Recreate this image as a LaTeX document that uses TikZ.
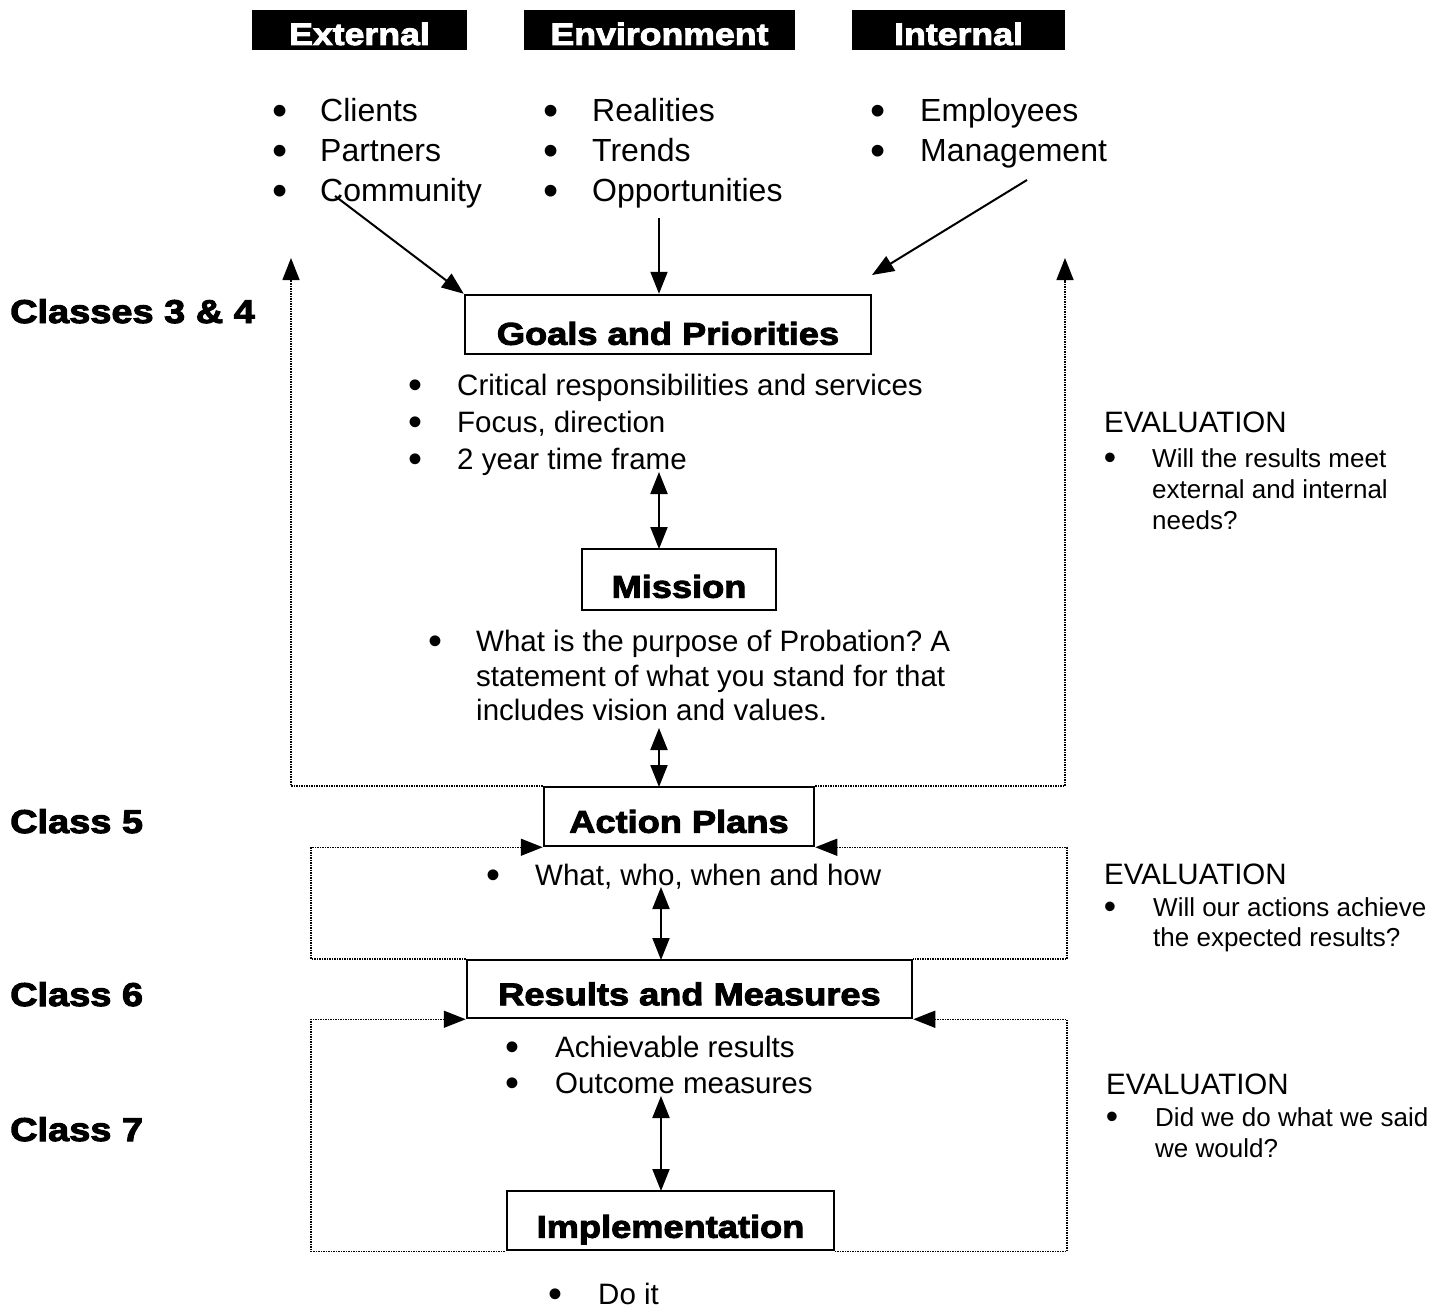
\documentclass[tikz,border=0pt]{standalone}
\usepackage{fontspec}
\setmainfont{Liberation Sans}
\newfontfamily\heavyfont{Liberation Sans}[BoldFeatures={FakeBold=3,FakeStretch=1.15}]
\usetikzlibrary{arrows.meta}
\newcommand{\bul}{\raisebox{-0.11em}{\scalebox{1.35}{•}}}
\frenchspacing

\begin{document}
\begin{tikzpicture}[x=1pt,y=-1pt,
    head/.style={fill=black,text=white,inner sep=0pt,text depth=0pt,text height=30pt,font=\heavyfont\bfseries\fontsize{31}{31}\selectfont},
    stage/.style={draw=black,line width=2.5pt,inner sep=0pt,text depth=0pt,font=\heavyfont\bfseries\fontsize{31.5}{31.5}\selectfont},
    cls/.style={anchor=base west,inner sep=0pt,font=\heavyfont\bfseries\fontsize{33}{33}\selectfont},
    big/.style={anchor=base west,inner sep=0pt,font=\fontsize{32}{32}\selectfont},
    txt/.style={anchor=base west,inner sep=0pt,font=\fontsize{29.5}{29.5}\selectfont},
    small/.style={anchor=base west,inner sep=0pt,font=\fontsize{26}{26}\selectfont},
    dot/.style={anchor=base,inner sep=0pt},
    arr/.style={line width=2pt,-{Triangle[length=22pt,width=17pt]}},
    both/.style={line width=2pt,{Triangle[length=22pt,width=17pt]}-{Triangle[length=22pt,width=17pt]}},
    loop/.style={line width=1.5pt,densely dotted,-{Triangle[length=22pt,width=17pt]}},
    loopin/.style={line width=1.5pt,densely dotted,{Triangle[length=22pt,width=17pt]}-}]
    \useasboundingbox (0,0) rectangle (1437,1316);

    % header boxes
    \node[head,minimum width=215pt,minimum height=40pt] (ext) at (359.5,30) {External};
    \node[head,minimum width=271pt,minimum height=40pt] (env) at (659.5,30) {Environment};
    \node[head,minimum width=213pt,minimum height=40pt] (int) at (958.5,30) {Internal};

    % external / environment / internal lists
    \node[big,dot] (e1b) at (280,122) {\bul};
    \node[big] (e1) at (320,122) {Clients};
    \node[big,dot] (e2b) at (280,162) {\bul};
    \node[big] (e2) at (320,162) {Partners};
    \node[big,dot] (e3b) at (280,202) {\bul};
    \node[big] (e3) at (320,202) {Community};
    \node[big,dot] (v1b) at (551,122) {\bul};
    \node[big] (v1) at (592,122) {Realities};
    \node[big,dot] (v2b) at (551,162) {\bul};
    \node[big] (v2) at (592,162) {Trends};
    \node[big,dot] (v3b) at (551,202) {\bul};
    \node[big] (v3) at (592,202) {Opportunities};
    \node[big,dot] (i1b) at (878,122) {\bul};
    \node[big] (i1) at (920,122) {Employees};
    \node[big,dot] (i2b) at (878,162) {\bul};
    \node[big] (i2) at (920,162) {Management};

    % class labels
    \node[cls] (c34) at (10,323) {Classes 3 \& 4};
    \node[cls] (c5) at (10,833) {Class 5};
    \node[cls] (c6) at (10,1006) {Class 6};
    \node[cls] (c7) at (10,1141) {Class 7};

    % stage boxes
    \node[stage,text height=40.5pt,minimum width=406pt,minimum height=59pt] (goals) at (668,324.5) {Goals and Priorities};
    \node[stage,text height=36.5pt,minimum width=194pt,minimum height=61pt] (mission) at (679,579.5) {Mission};
    \node[stage,text height=32.5pt,minimum width=270pt,minimum height=59pt] (action) at (679,816.5) {Action Plans};
    \node[stage,text height=32.5pt,minimum width=445pt,minimum height=58pt] (results) at (689.5,989) {Results and Measures};
    \node[stage,text height=34.5pt,minimum width=327pt,minimum height=59pt] (impl) at (670.5,1220.5) {Implementation};

    % stage texts
    \node[txt,dot] (g1b) at (415,395) {\bul};
    \node[txt] (g1) at (457,395) {Critical responsibilities and services};
    \node[txt,dot] (g2b) at (415,432) {\bul};
    \node[txt] (g2) at (457,432) {Focus, direction};
    \node[txt,dot] (g3b) at (415,469) {\bul};
    \node[txt] (g3) at (457,469) {2 year time frame};
    \node[txt,dot] (m1b) at (435,651) {\bul};
    \node[txt] (m1) at (476,651) {What is the purpose of Probation? A};
    \node[txt] (m2) at (476,686) {statement of what you stand for that};
    \node[txt] (m3) at (476,720) {includes vision and values.};
    \node[txt,dot] (a1b) at (493,885) {\bul};
    \node[txt] (a1) at (535,885) {What, who, when and how};
    \node[txt,dot] (r1b) at (512,1057) {\bul};
    \node[txt] (r1) at (555,1057) {Achievable results};
    \node[txt,dot] (r2b) at (512,1093) {\bul};
    \node[txt] (r2) at (555,1093) {Outcome measures};
    \node[txt,dot] (d1b) at (555,1304) {\bul};
    \node[txt] (d1) at (598,1304) {Do it};

    % evaluation notes
    \node[txt] (ev1) at (1104,432) {EVALUATION};
    \node[small,dot] (ev1b) at (1110,467) {\bul};
    \node[small] (ev1a) at (1152,467) {Will the results meet};
    \node[small] (ev1c) at (1152,498) {external and internal};
    \node[small] (ev1d) at (1152,529) {needs?};
    \node[txt] (ev2) at (1104,884) {EVALUATION};
    \node[small,dot] (ev2b) at (1110,916) {\bul};
    \node[small] (ev2a) at (1153,916) {Will our actions achieve};
    \node[small] (ev2c) at (1153,946) {the expected results?};
    \node[txt] (ev3) at (1106,1094) {EVALUATION};
    \node[small,dot] (ev3b) at (1112,1126) {\bul};
    \node[small] (ev3a) at (1155,1126) {Did we do what we said};
    \node[small] (ev3c) at (1155,1157) {we would?};

    % free ends
    \coordinate (comm) at (335,196);
    \coordinate (opp) at (659,218);
    \coordinate (mgmt) at (1027,180);
    \coordinate (mgmtend) at (872,275);
    \coordinate (gbot) at (659,472);
    \coordinate (mtop) at (659,549);
    \coordinate (mbot) at (659,728);
    \coordinate (atop) at (659,787);
    \coordinate (abot) at (661,887);
    \coordinate (rtop) at (661,960);
    \coordinate (rbot) at (661,1096);
    \coordinate (itop) at (661,1191);
    \coordinate (lup) at (291,258);
    \coordinate (rup) at (1065,258);
    \coordinate (l2) at (311,900);
    \coordinate (r2c) at (1067,900);
    \coordinate (l3) at (311,1100);
    \coordinate (r3c) at (1067,1100);

    \draw [arr] (comm) -- (goals.north west);
    \draw [arr] (opp) -- (opp |- goals.north);
    \draw [arr] (mgmt) -- (mgmtend);
    \draw [both] (gbot) -- (mtop);
    \draw [both] (mbot) -- (atop);
    \draw [both] (abot) -- (rtop);
    \draw [both] (rbot) -- (itop);

    \draw [loop] (action.north west) -| (lup);
    \draw [loop] (action.north east) -| (rup);
    \draw [loopin] (action.south west) -| (l2) |- (results.north west);
    \draw [loopin] (action.south east) -| (r2c) |- (results.north east);
    \draw [loopin] (results.south west) -| (l3) |- (impl.south west);
    \draw [loopin] (results.south east) -| (r3c) |- (impl.south east);
\end{tikzpicture}
\end{document}
